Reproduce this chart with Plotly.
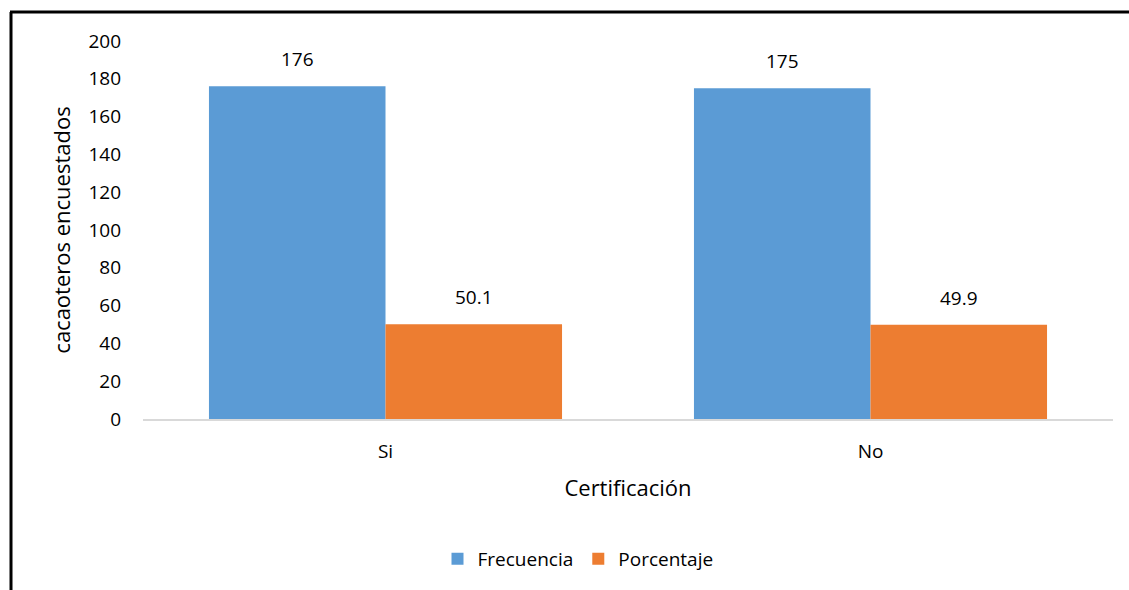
import plotly.graph_objects as go

categories = ["Si", "No"]
frecuencia = [176, 175]
porcentaje = [50.1, 49.9]
frecuencia_labels = ["176", "175"]
porcentaje_labels = ["50.1", "49.9"]
y_ticks = [0, 20, 40, 60, 80, 100, 120, 140, 160, 180, 200]

FONT = "Open Sans"
W, H = 1129, 590
ML, MR, MT, MB = 143, 16, 41, 171
pw = W - ML - MR
ph = H - MT - MB

def px_x(x):
    return (x - ML) / pw

def px_y(y):
    return (H - MB - y) / ph

fig = go.Figure()
fig.add_trace(go.Bar(
    name="Frecuencia", x=categories, y=frecuencia,
    marker=dict(color="#5B9BD5", line=dict(width=0)),
))
fig.add_trace(go.Bar(
    name="Porcentaje", x=categories, y=porcentaje,
    marker=dict(color="#ED7D31", line=dict(width=0)),
))

annotations = []
half = 88
for cat, v, t in zip(categories, frecuencia, frecuencia_labels):
    annotations.append(dict(x=cat, y=v, text=t, showarrow=False, xref="x", yref="y",
                            xshift=-half, yshift=27, yanchor="middle",
                            font=dict(family=FONT, size=19, color="#000000")))
for cat, v, t in zip(categories, porcentaje, porcentaje_labels):
    annotations.append(dict(x=cat, y=v, text=t, showarrow=False, xref="x", yref="y",
                            xshift=half, yshift=27, yanchor="middle",
                            font=dict(family=FONT, size=19, color="#000000")))

fig.update_layout(
    width=W, height=H,
    margin=dict(l=ML, r=MR, t=MT, b=MB, autoexpand=False),
    paper_bgcolor="white", plot_bgcolor="white",
    barmode="group", bargap=0.272, bargroupgap=0,
    font=dict(family=FONT, size=19, color="#000000"),
    showlegend=True,
    legend=dict(orientation="h", x=px_x(578), xanchor="center",
                y=px_y(559), yanchor="middle",
                font=dict(family=FONT, size=19, color="#000000"),
                itemwidth=30, tracegroupgap=0),
    xaxis=dict(
        showline=True, linecolor="#D9D9D9", linewidth=2,
        showgrid=False, ticks="", zeroline=False,
        ticklabelstandoff=14,
        tickfont=dict(family=FONT, size=19),
        title=dict(text="Certificación", font=dict(family=FONT, size=22), standoff=18),
    ),
    yaxis=dict(
        range=[0, 200], tickvals=y_ticks,
        showgrid=False, showline=False, zeroline=False, ticks="",
        ticklabelstandoff=21,
        tickfont=dict(family=FONT, size=19),
        title=dict(text="cacaoteros encuestados", font=dict(family=FONT, size=22), standoff=11),
    ),
    annotations=annotations,
    shapes=[
        dict(type="line", xref="paper", yref="paper",
             x0=px_x(11), x1=px_x(11), y0=px_y(12), y1=px_y(600),
             line=dict(color="#000000", width=3)),
        dict(type="line", xref="paper", yref="paper",
             x0=px_x(10), x1=px_x(1135), y0=px_y(12), y1=px_y(12),
             line=dict(color="#000000", width=3)),
    ],
)

fig.write_html("out.html", config={"displayModeBar": False},
               post_script="document.body.style.margin='0';document.body.style.overflow='hidden';")
